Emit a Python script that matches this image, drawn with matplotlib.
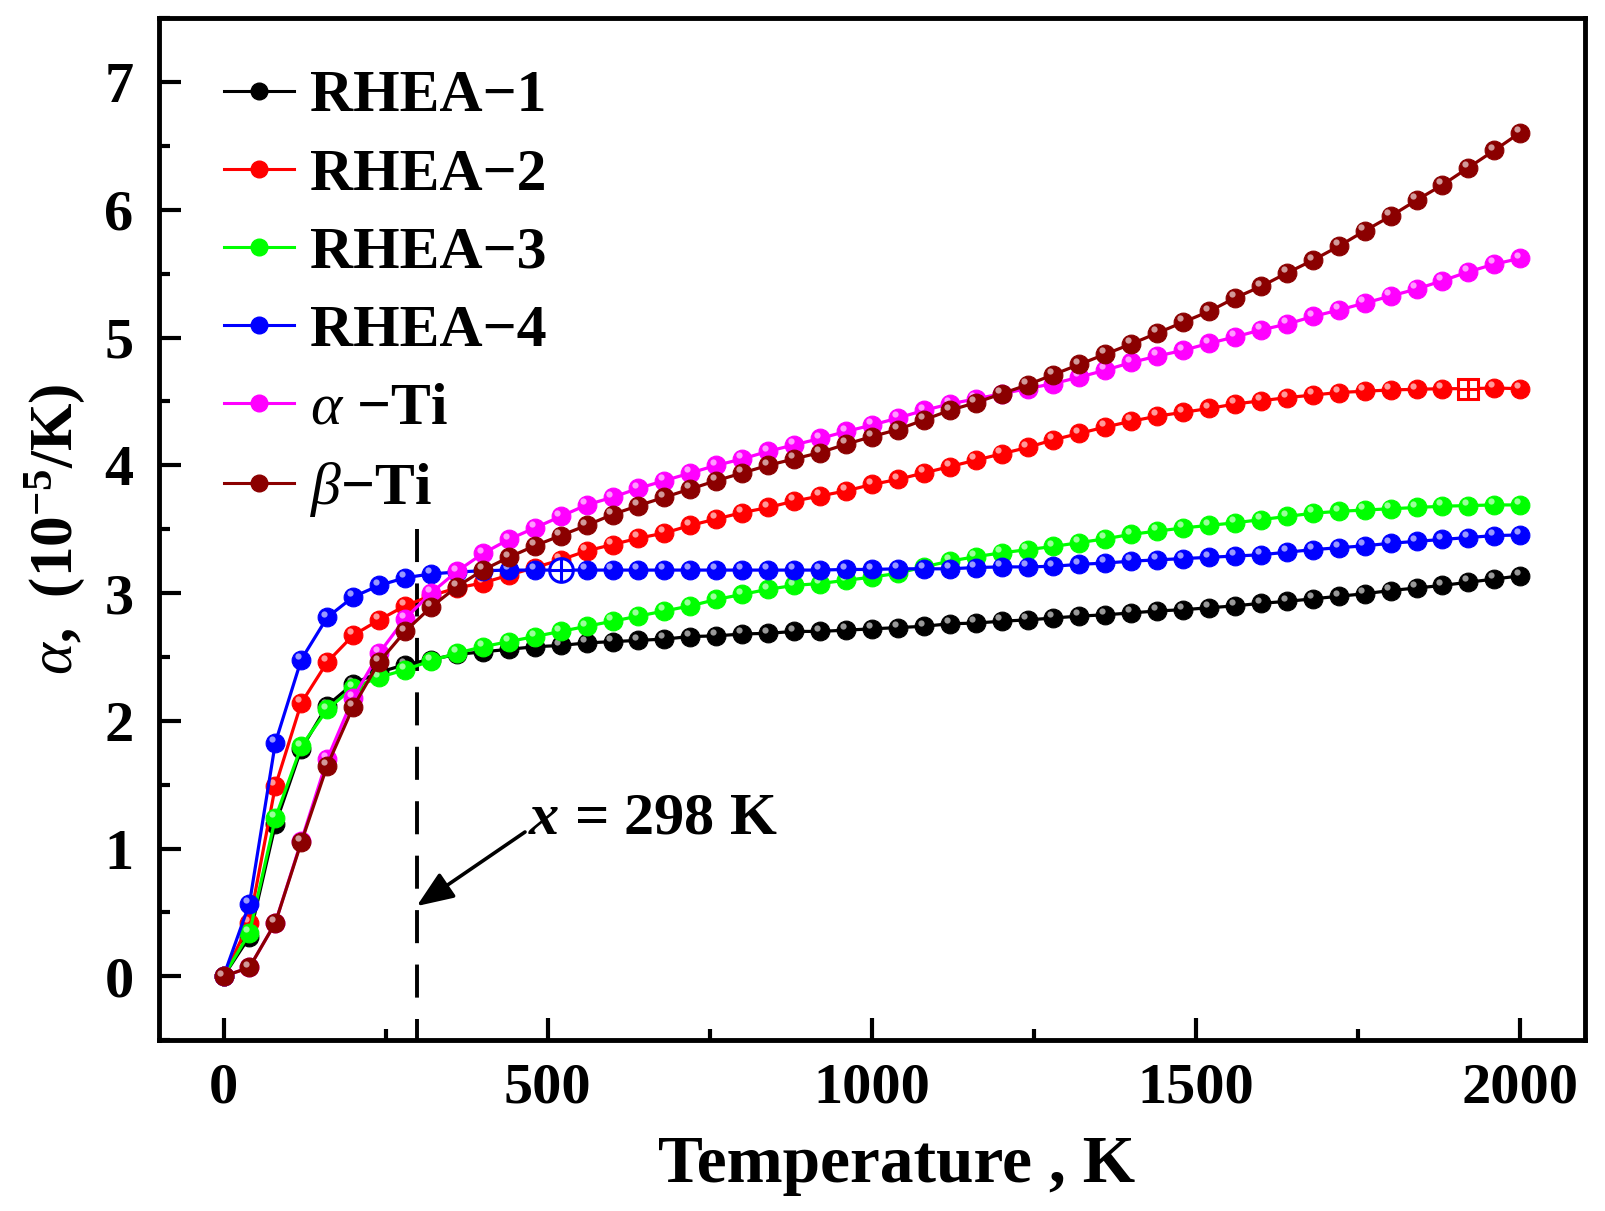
import matplotlib
matplotlib.use('Agg')
import matplotlib.pyplot as plt
import matplotlib.colors as mcolors
from matplotlib.transforms import offset_copy
from matplotlib.lines import Line2D
from matplotlib.ticker import MultipleLocator

# ---------------- data ----------------
temperature = [0, 40, 80, 120, 160, 200, 240, 280, 320, 360, 400, 440, 480, 520, 560,
               600, 640, 680, 720, 760, 800, 840, 880, 920, 960, 1000, 1040, 1080, 1120,
               1160, 1200, 1240, 1280, 1320, 1360, 1400, 1440, 1480, 1520, 1560, 1600,
               1640, 1680, 1720, 1760, 1800, 1840, 1880, 1920, 1960, 2000]

rhea1 = [0.00, 0.31, 1.19, 1.78, 2.12, 2.29, 2.38, 2.44, 2.48, 2.52, 2.54, 2.56, 2.58, 2.59, 2.61,
         2.62, 2.63, 2.64, 2.66, 2.665, 2.68, 2.685, 2.70, 2.70, 2.71, 2.72, 2.73, 2.74, 2.76,
         2.765, 2.78, 2.79, 2.805, 2.82, 2.83, 2.845, 2.86, 2.87, 2.885, 2.90, 2.92,
         2.935, 2.955, 2.975, 2.995, 3.02, 3.04, 3.06, 3.085, 3.11, 3.135]

rhea2 = [0.00, 0.42, 1.49, 2.14, 2.46, 2.67, 2.79, 2.90, 2.98, 3.04, 3.08, 3.14, 3.20, 3.26, 3.33,
         3.38, 3.43, 3.47, 3.53, 3.58, 3.63, 3.67, 3.72, 3.76, 3.80, 3.85, 3.89, 3.94, 3.99,
         4.04, 4.09, 4.14, 4.20, 4.25, 4.30, 4.345, 4.385, 4.415, 4.445, 4.48, 4.505,
         4.53, 4.55, 4.57, 4.58, 4.59, 4.595, 4.60, 4.60, 4.605, 4.60]

rhea3 = [0.00, 0.34, 1.24, 1.80, 2.09, 2.26, 2.34, 2.40, 2.47, 2.53, 2.58, 2.62, 2.66, 2.70, 2.74,
         2.78, 2.82, 2.86, 2.90, 2.95, 2.99, 3.03, 3.06, 3.075, 3.10, 3.125, 3.155, 3.205, 3.25,
         3.285, 3.315, 3.34, 3.365, 3.395, 3.425, 3.46, 3.485, 3.51, 3.53, 3.55, 3.575,
         3.60, 3.625, 3.64, 3.65, 3.66, 3.67, 3.68, 3.685, 3.69, 3.69]

rhea4 = [0.00, 0.57, 1.83, 2.48, 2.81, 2.97, 3.06, 3.12, 3.15, 3.165, 3.175, 3.18, 3.18, 3.18, 3.18,
         3.18, 3.18, 3.18, 3.18, 3.18, 3.18, 3.18, 3.18, 3.18, 3.185, 3.185, 3.19, 3.19, 3.19,
         3.20, 3.205, 3.205, 3.21, 3.225, 3.235, 3.25, 3.26, 3.27, 3.28, 3.29, 3.30,
         3.32, 3.34, 3.355, 3.37, 3.39, 3.405, 3.42, 3.435, 3.45, 3.455]

alpha_ti = [0.00, 0.07, 0.42, 1.06, 1.70, 2.18, 2.53, 2.80, 3.00, 3.17, 3.31, 3.42, 3.51, 3.60, 3.69,
            3.75, 3.82, 3.88, 3.94, 4.00, 4.05, 4.11, 4.16, 4.21, 4.265, 4.315, 4.37, 4.43, 4.48,
            4.52, 4.56, 4.60, 4.64, 4.69, 4.745, 4.805, 4.855, 4.90, 4.955, 5.005, 5.06,
            5.105, 5.165, 5.215, 5.27, 5.325, 5.38, 5.445, 5.515, 5.575, 5.62]

beta_ti = [0.00, 0.07, 0.42, 1.05, 1.65, 2.11, 2.46, 2.70, 2.89, 3.05, 3.18, 3.28, 3.37, 3.45, 3.53,
           3.615, 3.685, 3.75, 3.815, 3.88, 3.94, 4.00, 4.05, 4.10, 4.165, 4.225, 4.28, 4.355, 4.43,
           4.49, 4.56, 4.63, 4.71, 4.79, 4.87, 4.95, 5.035, 5.12, 5.205, 5.31, 5.40,
           5.505, 5.605, 5.715, 5.835, 5.95, 6.075, 6.195, 6.33, 6.465, 6.605]

labels = ['RHEA\u22121', 'RHEA\u22122', 'RHEA\u22123', 'RHEA\u22124',
          r'$\mathsf{\alpha}$' + ' \u2212Ti', r'$\mathsf{\beta}$' + '\u2212Ti']
series = [rhea1, rhea2, rhea3, rhea4, alpha_ti, beta_ti]
colors = ['#000000', '#FF0000', '#00FF00', '#0000FF', '#FF00FF', '#8B0000']

ref_temperature = 298
reader_blue_T = 520
reader_red_T = 1920

# ---------------- style ----------------
plt.rcParams['font.family'] = ['Liberation Serif', 'DejaVu Serif']
plt.rcParams['font.weight'] = 'bold'
plt.rcParams['mathtext.fontset'] = 'custom'
plt.rcParams['mathtext.rm'] = 'Liberation Serif:weight=bold'
plt.rcParams['mathtext.bf'] = 'Liberation Serif:weight=bold'
plt.rcParams['mathtext.it'] = 'Liberation Serif:style=italic:weight=bold'
plt.rcParams['mathtext.sf'] = 'Liberation Serif:style=italic:weight=normal'

fig = plt.figure(figsize=(16.06, 12.11), dpi=100)
ax = fig.add_axes([0.0988, 0.141, 0.8882, 0.844])

hl_trans = offset_copy(ax.transData, fig=fig, x=-2.3, y=2.7, units='points')

for ys, c, lab in zip(series, colors, labels):
    ax.plot(temperature, ys, '-', color=c, lw=2.3, marker='o', ms=13.5,
            mfc=c, mec=c, mew=0.8)
    hl = mcolors.to_rgb(c)
    hl = tuple(v + (1 - v) * 0.6 for v in hl)
    ax.plot(temperature, ys, linestyle='none', marker='o', ms=4.5, mfc=hl, mec='none',
            transform=hl_trans)

# data-reader markers
ib = temperature.index(reader_blue_T)
ax.plot([reader_blue_T], [rhea4[ib]], marker='o', ms=17, mfc='white', mec='#0000FF', mew=2.2, zorder=5)
ax.plot([reader_blue_T], [rhea4[ib]], marker='+', ms=17, mec='#0000FF', mew=2.2, zorder=6)
ir = temperature.index(reader_red_T)
ax.plot([reader_red_T], [rhea2[ir]], marker='s', ms=14, mfc='white', mec='#FF0000', mew=2.2, zorder=5)
ax.plot([reader_red_T], [rhea2[ir]], marker='+', ms=14, mec='#FF0000', mew=2.2, zorder=6)

# dashed reference line
ax.plot([ref_temperature, ref_temperature], [3.5, -0.5], color='black', lw=2.8,
        linestyle=(0, (8.5, 5.5)), zorder=1)

ax.annotate('', xy=(ref_temperature, 0.55), xytext=(465, 1.13),
            arrowprops=dict(arrowstyle='-|>,head_length=0.75,head_width=0.3', lw=2.6,
                            color='black', mutation_scale=30, shrinkA=0, shrinkB=0))
ax.text(470, 1.225, r'$x$ = 298 K', fontsize=43.5, fontweight='bold', ha='left', va='center')

ax.set_xlim(-100, 2100)
ax.set_ylim(-0.5, 7.5)
ax.xaxis.set_major_locator(MultipleLocator(500))
ax.xaxis.set_minor_locator(MultipleLocator(250))
ax.yaxis.set_major_locator(MultipleLocator(1))
ax.yaxis.set_minor_locator(MultipleLocator(0.5))

for s in ax.spines.values():
    s.set_linewidth(3.5)
ax.tick_params(which='both', direction='in', top=False, right=False, width=3)
ax.tick_params(which='major', length=16)
ax.tick_params(which='minor', length=8)
ax.tick_params(axis='x', which='major', labelsize=42, pad=16)
ax.tick_params(axis='y', which='major', labelsize=42, pad=18)
for t in ax.get_xticklabels() + ax.get_yticklabels():
    t.set_fontweight('bold')

ax.set_xlabel('Temperature , K', fontsize=48.5, fontweight='bold')
ax.xaxis.set_label_coords(0.5175, -0.093)
ax.set_ylabel(r'$\mathsf{\alpha}$' + ',  (10' + r'$^{\mathbf{-5}}$' + '/K)', fontsize=44,
              fontweight='bold')
ax.yaxis.set_label_coords(-0.050, 0.5)

handles = [Line2D([0], [0], color=c, lw=2.2, marker='o', ms=12, mfc=c, mec=c) for c in colors]
leg = ax.legend(handles, labels, loc='upper left', bbox_to_anchor=(0.029, 0.973), frameon=False,
                prop={'family': 'Liberation Serif', 'weight': 'bold', 'size': 43},
                handlelength=1.17, handletextpad=0.27, labelspacing=0.39, borderaxespad=0)

fig.savefig('out.png', dpi=100)
